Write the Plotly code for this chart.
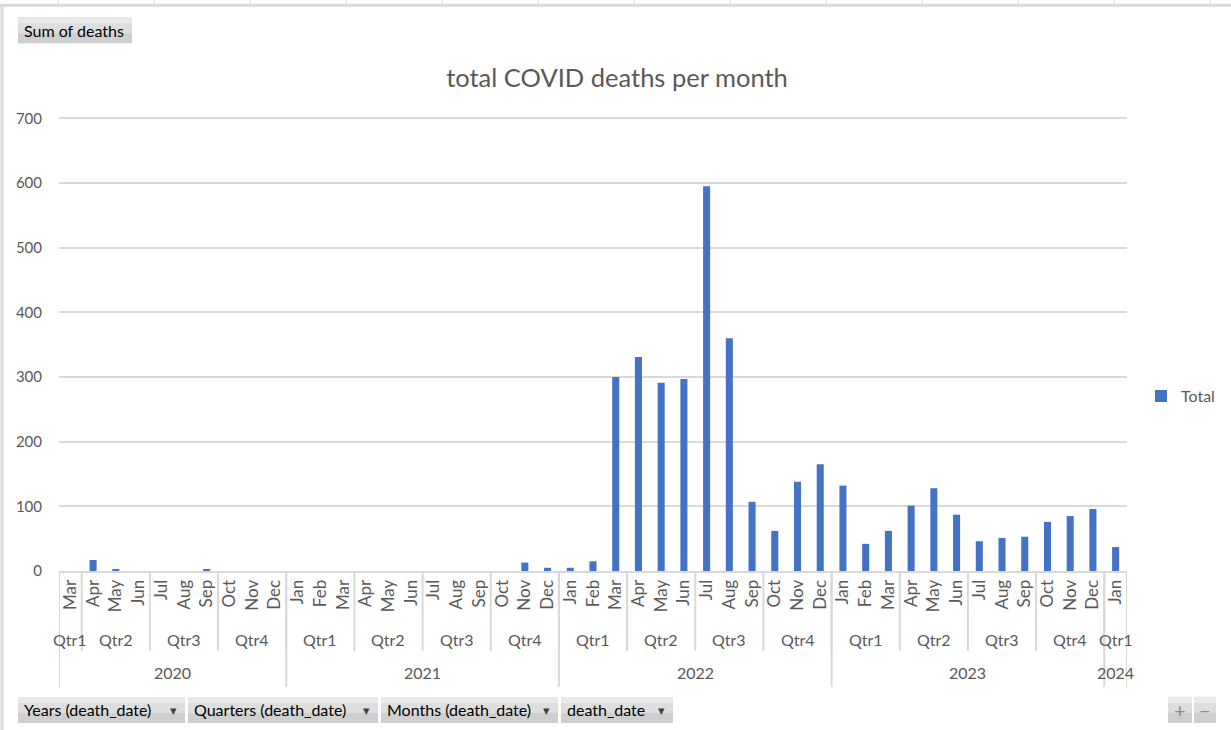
import plotly.graph_objects as go

# pivot data
years = [2020] * 10 + [2021] * 12 + [2022] * 12 + [2023] * 12 + [2024]
month_names = ["Mar", "Apr", "May", "Jun", "Jul", "Aug", "Sep", "Oct", "Nov", "Dec"] + \
    ["Jan", "Feb", "Mar", "Apr", "May", "Jun", "Jul", "Aug", "Sep", "Oct", "Nov", "Dec"] * 3 + ["Jan"]
deaths = [0, 17, 3, 0, 0, 0, 2, 0, 0, 0,
          0, 0, 0, 0, 0, 0, 0, 0, 0, 0, 13, 5,
          5, 15, 300, 331, 291, 297, 595, 360, 107, 62, 138, 165,
          132, 42, 62, 101, 128, 87, 46, 51, 53, 76, 85, 96,
          37]
y_ticks = [0, 100, 200, 300, 400, 500, 600, 700]

month_num = {"Jan": 1, "Feb": 2, "Mar": 3, "Apr": 4, "May": 5, "Jun": 6,
             "Jul": 7, "Aug": 8, "Sep": 9, "Oct": 10, "Nov": 11, "Dec": 12}
quarters = ["Qtr%d" % ((month_num[m] - 1) // 3 + 1) for m in month_names]
cats = ["%s %d" % (m, y) for m, y in zip(month_names, years)]

W, H = 1231, 730
YMAX = 702  # a hair over 700 so the top gridline still gets drawn
L, R, B = 59, 1127, 571
T = B - YMAX * (453 / 700)
GRAY = "#595959"
LINE = "#d9d9d9"
FONT = "Lato"


def px(x):
    return (x - L) / (R - L)


def py(y):
    return (B - y) / (B - T)


fig = go.Figure()
fig.add_trace(go.Bar(x=cats, y=deaths, name="Total", marker_color="#4472C4",
                     marker_line_width=0))

shapes = []
annos = []


def groups(keys):
    out = []
    start = 0
    for i in range(1, len(keys) + 1):
        if i == len(keys) or keys[i] != keys[start]:
            out.append((start, i - 1, keys[start]))
            start = i
    return out


# quarter / year rows under the month labels
qkeys = [(y, q) for y, q in zip(years, quarters)]
for a, b, k in groups(qkeys):
    annos.append(dict(x=(a + b) / 2, y=py(640), xref="x", yref="paper", text=k[1],
                      showarrow=False, xanchor="center", yanchor="middle",
                      font=dict(size=16, color=GRAY, family=FONT)))
    shapes.append(dict(type="line", xref="x", yref="paper", x0=a - 0.5, x1=a - 0.5,
                       y0=0, y1=py(651), line=dict(color=LINE, width=2)))
for a, b, k in groups(years):
    annos.append(dict(x=(a + b) / 2, y=py(673), xref="x", yref="paper", text=str(k),
                      showarrow=False, xanchor="center", yanchor="middle",
                      font=dict(size=16, color=GRAY, family=FONT)))
    shapes.append(dict(type="line", xref="x", yref="paper", x0=a - 0.5, x1=a - 0.5,
                       y0=0, y1=py(687), line=dict(color=LINE, width=2)))
shapes.append(dict(type="line", xref="x", yref="paper", x0=len(cats) - 0.5, x1=len(cats) - 0.5,
                   y0=0, y1=py(687), line=dict(color=LINE, width=2)))

# chart border + spreadsheet cells peeking out on top
shapes.append(dict(type="line", xref="paper", yref="paper", x0=px(0), x1=px(W),
                   y0=py(5), y1=py(5), line=dict(color=LINE, width=3)))
shapes.append(dict(type="line", xref="paper", yref="paper", x0=px(2), x1=px(2),
                   y0=py(5), y1=py(H), line=dict(color=LINE, width=3)))
for cx in range(58, W, 96):
    shapes.append(dict(type="line", xref="paper", yref="paper", x0=px(cx), x1=px(cx),
                       y0=py(0), y1=py(4), line=dict(color=LINE, width=1)))


# pivot field buttons
def button(x0, x1, y0, y1, text, arrow=True, center=False):
    ym = (y0 + y1) / 2
    shapes.append(dict(type="rect", xref="paper", yref="paper", x0=px(x0), x1=px(x1),
                       y0=py(y1), y1=py(y0), fillcolor="#cfcfcf", line=dict(width=0),
                       layer="below"))
    shapes.append(dict(type="rect", xref="paper", yref="paper", x0=px(x0), x1=px(x1),
                       y0=py(ym + 3), y1=py(y0), fillcolor="#dedede", line=dict(width=0),
                       layer="below"))
    shapes.append(dict(type="rect", xref="paper", yref="paper", x0=px(x0), x1=px(x1),
                       y0=py(y0 + 6), y1=py(y0), fillcolor="#e8e8e8", line=dict(width=0),
                       layer="below"))
    if center:
        annos.append(dict(x=px((x0 + x1) / 2), y=py(ym), xref="paper", yref="paper",
                          text=text, showarrow=False, xanchor="center", yanchor="middle",
                          font=dict(size=20, color="#8a8a8a", family=FONT)))
        return
    annos.append(dict(x=px(x0 + 4), y=py(ym), xref="paper", yref="paper",
                      text=text, showarrow=False, xanchor="left", yanchor="middle",
                      font=dict(size=16, color="#000000", family=FONT)))
    if arrow:
        annos.append(dict(x=px(x1 - 12), y=py(ym), xref="paper", yref="paper",
                          text="▾", showarrow=False, xanchor="center", yanchor="middle",
                          font=dict(size=13, color="#404040")))


button(18, 132, 17, 43, "Sum of deaths", arrow=False)
button(18, 185, 697, 723, "Years (death_date)")
button(188, 378, 697, 723, "Quarters (death_date)")
button(381, 558, 697, 723, "Months (death_date)")
button(561, 673, 697, 723, "death_date")
button(1168, 1192, 697, 723, "+", center=True)
button(1194, 1216, 697, 723, "−", center=True)

fig.update_layout(
    width=W, height=H,
    margin=dict(l=L, r=W - R, t=T, b=H - B, pad=0, autoexpand=False),
    paper_bgcolor="white", plot_bgcolor="white",
    font=dict(family=FONT, color=GRAY, size=16),
    title=dict(text="total COVID deaths per month", x=px(617), xanchor="center",
               xref="paper", y=1 - 78 / H, yanchor="middle", yref="container",
               font=dict(size=25.5, color=GRAY, family=FONT)),
    bargap=0.69,
    showlegend=True,
    legend=dict(x=px(1141), y=py(396), xanchor="left", yanchor="middle",
                font=dict(size=16, color=GRAY, family=FONT), itemwidth=30,
                bgcolor="rgba(0,0,0,0)"),
    shapes=shapes,
    annotations=annos,
)
fig.update_xaxes(type="category", tickmode="array", tickvals=cats, ticktext=month_names,
                 tickangle=-90, showgrid=False, showline=True, linecolor=LINE, linewidth=2,
                 ticks="", tickfont=dict(size=17, color=GRAY), range=[-0.5, len(cats) - 0.5],
                 fixedrange=True)
fig.update_yaxes(range=[0, YMAX], tickvals=y_ticks, showgrid=True, gridcolor=LINE, gridwidth=2,
                 zeroline=False, showline=False, ticks="", ticklabelstandoff=16,
                 tickfont=dict(size=15, color=GRAY))

fig.write_html("out.html", config={"displayModeBar": False},
               post_script="document.body.style.margin='0';")
